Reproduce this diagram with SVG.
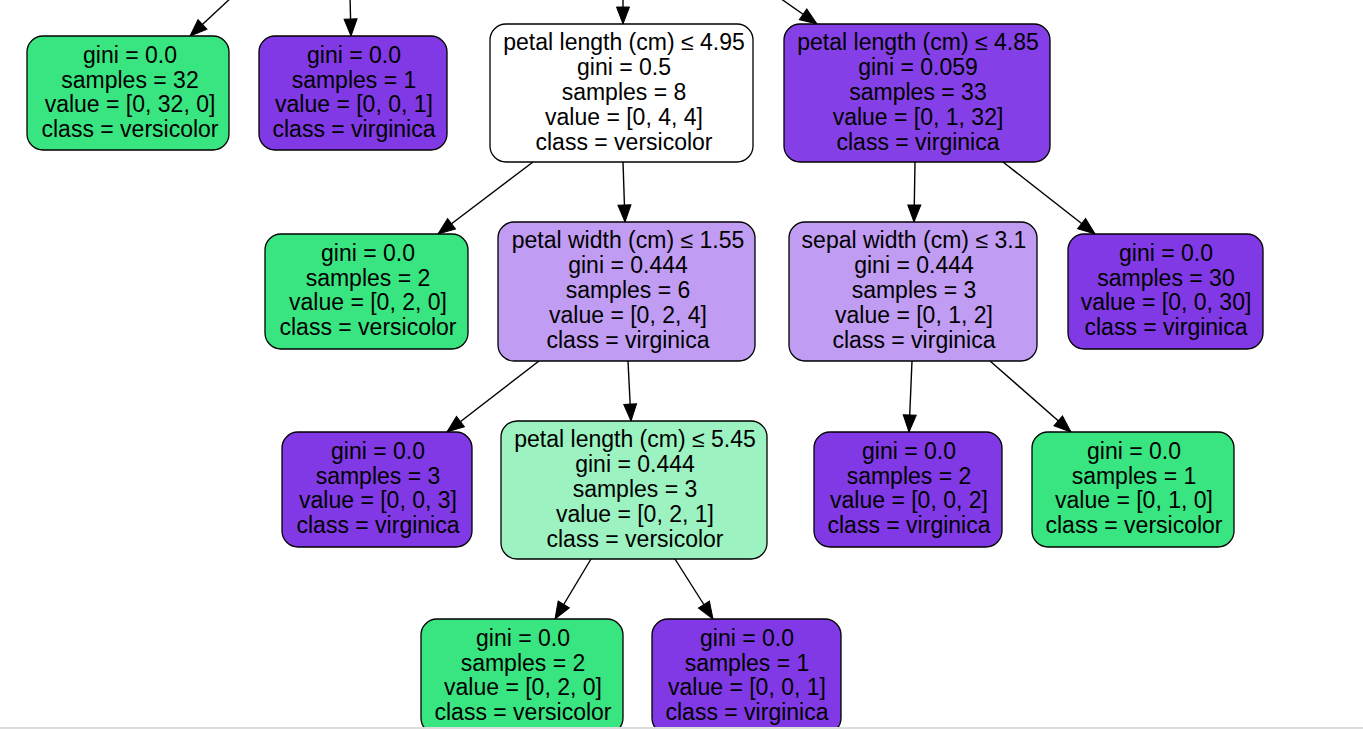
<svg xmlns="http://www.w3.org/2000/svg" width="1363" height="729" viewBox="0 0 1363 729">
<style>
.n rect{stroke:#000;stroke-width:1.3}
.n text{font-family:"Liberation Sans",Arial,sans-serif;font-size:23px;fill:#000;text-anchor:middle}
.e line{stroke:#000;stroke-width:1.4;marker-end:url(#ah)}
.g{fill:#39e581}.p{fill:#8139e5}.p2{fill:#853fe6}.lp{fill:#c09cf2}.lg{fill:#9cf2c0}.w{fill:#fff}
</style>
<defs>
<marker id="ah" markerUnits="userSpaceOnUse" markerWidth="19" markerHeight="15" refX="17" refY="6.5" orient="auto" viewBox="-1 -1 19 15">
<path d="M0,0 L17,6.5 L0,13 z" fill="#000" stroke="#000" stroke-width="1"/>
</marker>
</defs>
<rect width="1363" height="729" fill="#fff"/>
<g id="connectors" class="e">
<line x1="233" y1="-4" x2="190" y2="36"/>
<line x1="350" y1="-4" x2="351" y2="36"/>
<line x1="623" y1="-4" x2="623" y2="24"/>
<line x1="777" y1="-4" x2="817" y2="24"/>
<line x1="533" y1="162" x2="438" y2="234"/>
<line x1="623" y1="162" x2="625" y2="222"/>
<line x1="915" y1="162" x2="914" y2="222"/>
<line x1="1003" y1="162" x2="1095" y2="234"/>
<line x1="539" y1="361" x2="447" y2="432"/>
<line x1="628" y1="361" x2="631" y2="421"/>
<line x1="912" y1="361" x2="909" y2="432"/>
<line x1="990" y1="361" x2="1071" y2="432"/>
<line x1="591" y1="559" x2="555" y2="619"/>
<line x1="675" y1="559" x2="713" y2="619"/>
</g>
<g id="nodeA" class="n">
<rect class="g" x="27" y="36" width="202" height="114" rx="16"/>
<text x="130" y="63">gini = 0.0</text>
<text x="130" y="87.5">samples = 32</text>
<text x="130" y="112">value = [0, 32, 0]</text>
<text x="130" y="136.5">class = versicolor</text>
</g>
<g id="nodeB" class="n">
<rect class="p" x="259" y="36" width="188" height="114" rx="16"/>
<text x="354" y="63">gini = 0.0</text>
<text x="354" y="87.5">samples = 1</text>
<text x="354" y="112">value = [0, 0, 1]</text>
<text x="354" y="136.5">class = virginica</text>
</g>
<g id="nodeC" class="n">
<rect class="w" x="490" y="24" width="263" height="138" rx="16"/>
<text x="624" y="50">petal length (cm) ≤ 4.95</text>
<text x="624" y="75">gini = 0.5</text>
<text x="624" y="100">samples = 8</text>
<text x="624" y="125">value = [0, 4, 4]</text>
<text x="624" y="150">class = versicolor</text>
</g>
<g id="nodeD" class="n">
<rect class="p2" x="784" y="24" width="266" height="138" rx="16"/>
<text x="918" y="50">petal length (cm) ≤ 4.85</text>
<text x="918" y="75">gini = 0.059</text>
<text x="918" y="100">samples = 33</text>
<text x="918" y="125">value = [0, 1, 32]</text>
<text x="918" y="150">class = virginica</text>
</g>
<g id="nodeE" class="n">
<rect class="g" x="265" y="234" width="203" height="115" rx="16"/>
<text x="368" y="261">gini = 0.0</text>
<text x="368" y="285.5">samples = 2</text>
<text x="368" y="310">value = [0, 2, 0]</text>
<text x="368" y="334.5">class = versicolor</text>
</g>
<g id="nodeF" class="n">
<rect class="lp" x="498" y="222" width="257" height="139" rx="16"/>
<text x="628" y="248">petal width (cm) ≤ 1.55</text>
<text x="628" y="273">gini = 0.444</text>
<text x="628" y="298">samples = 6</text>
<text x="628" y="323">value = [0, 2, 4]</text>
<text x="628" y="348">class = virginica</text>
</g>
<g id="nodeG" class="n">
<rect class="lp" x="789" y="222" width="248" height="139" rx="16"/>
<text x="914" y="248">sepal width (cm) ≤ 3.1</text>
<text x="914" y="273">gini = 0.444</text>
<text x="914" y="298">samples = 3</text>
<text x="914" y="323">value = [0, 1, 2]</text>
<text x="914" y="348">class = virginica</text>
</g>
<g id="nodeH" class="n">
<rect class="p" x="1068" y="234" width="195" height="115" rx="16"/>
<text x="1166" y="261">gini = 0.0</text>
<text x="1166" y="285.5">samples = 30</text>
<text x="1166" y="310">value = [0, 0, 30]</text>
<text x="1166" y="334.5">class = virginica</text>
</g>
<g id="nodeI" class="n">
<rect class="p" x="282" y="432" width="190" height="115" rx="16"/>
<text x="378" y="459">gini = 0.0</text>
<text x="378" y="483.5">samples = 3</text>
<text x="378" y="508">value = [0, 0, 3]</text>
<text x="378" y="532.5">class = virginica</text>
</g>
<g id="nodeJ" class="n">
<rect class="lg" x="501" y="421" width="266" height="138" rx="16"/>
<text x="635" y="447">petal length (cm) ≤ 5.45</text>
<text x="635" y="472">gini = 0.444</text>
<text x="635" y="497">samples = 3</text>
<text x="635" y="522">value = [0, 2, 1]</text>
<text x="635" y="547">class = versicolor</text>
</g>
<g id="nodeK" class="n">
<rect class="p" x="814" y="432" width="188" height="115" rx="16"/>
<text x="909" y="459">gini = 0.0</text>
<text x="909" y="483.5">samples = 2</text>
<text x="909" y="508">value = [0, 0, 2]</text>
<text x="909" y="532.5">class = virginica</text>
</g>
<g id="nodeL" class="n">
<rect class="g" x="1032" y="432" width="202" height="115" rx="16"/>
<text x="1134" y="459">gini = 0.0</text>
<text x="1134" y="483.5">samples = 1</text>
<text x="1134" y="508">value = [0, 1, 0]</text>
<text x="1134" y="532.5">class = versicolor</text>
</g>
<g id="nodeM" class="n">
<rect class="g" x="421" y="619" width="202" height="115" rx="16"/>
<text x="523" y="646">gini = 0.0</text>
<text x="523" y="670.5">samples = 2</text>
<text x="523" y="695">value = [0, 2, 0]</text>
<text x="523" y="719.5">class = versicolor</text>
</g>
<g id="nodeN" class="n">
<rect class="p" x="652" y="619" width="189" height="115" rx="16"/>
<text x="747" y="646">gini = 0.0</text>
<text x="747" y="670.5">samples = 1</text>
<text x="747" y="695">value = [0, 0, 1]</text>
<text x="747" y="719.5">class = virginica</text>
</g>
<rect x="0" y="727" width="1363" height="2" fill="#dcdcdc"/>
</svg>
